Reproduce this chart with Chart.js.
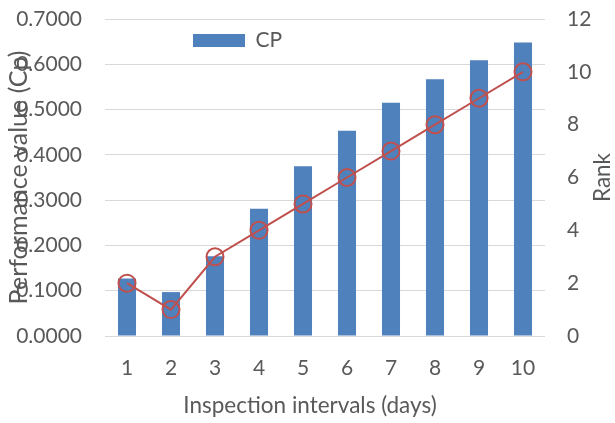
<!DOCTYPE html>
<html>
<head>
<meta charset="utf-8">
<script src="https://cdn.jsdelivr.net/npm/chart.js@4/dist/chart.umd.min.js"></script>
<style>
  body { margin: 0; background: #fff; }
  #wrap { width: 615px; height: 423px; }
</style>
</head>
<body>
<div id="wrap"><canvas id="chart" width="615" height="423"></canvas></div>
<script>
const intervals = ['1', '2', '3', '4', '5', '6', '7', '8', '9', '10'];
const cpValues = [0.127, 0.097, 0.176, 0.281, 0.375, 0.453, 0.515, 0.567, 0.609, 0.648];
const rankValues = [2, 1, 3, 4, 5, 6, 7, 8, 9, 10];

const textColor = '#595959';
const gridColor = '#D9D9D9';
const fontFamily = 'Lato, "Open Sans", sans-serif';

// axis titles placed like the original: x title centred on the whole chart,
// right title reading bottom-to-top
const axisTitles = {
  id: 'axisTitles',
  afterLayout(chart) {
    // move the CP legend into the plot, left of centre
    const lg = chart.legend;
    lg.left = 183;
    lg.top = 20;
  },
  afterDraw(chart) {
    const ctx = chart.ctx;
    const a = chart.chartArea;
    ctx.save();
    ctx.fillStyle = textColor;
    ctx.font = '22.5px ' + fontFamily;
    ctx.textAlign = 'center';
    ctx.textBaseline = 'middle';
    ctx.fillText('Inspection intervals (days)', 310, 406);
    ctx.translate(603, (a.top + a.bottom) / 2);
    ctx.rotate(-Math.PI / 2);
    ctx.fillText('Rank', 0, 0);
    ctx.restore();
  }
};

new Chart(document.getElementById('chart'), {
  data: {
    labels: intervals,
    datasets: [
      {
        type: 'line',
        label: 'Rank',
        data: rankValues,
        yAxisID: 'y1',
        borderColor: '#C0504D',
        borderWidth: 2,
        pointRadius: 8.5,
        pointBorderWidth: 2,
        pointBorderColor: '#C0504D',
        pointBackgroundColor: 'transparent',
        tension: 0,
        order: 0
      },
      {
        type: 'bar',
        label: 'CP',
        data: cpValues,
        yAxisID: 'y',
        backgroundColor: '#4F81BD',
        borderWidth: 0,
        barPercentage: 0.41,
        categoryPercentage: 1,
        order: 1
      }
    ]
  },
  options: {
    responsive: false,
    animation: false,
    layout: { padding: { top: 19, left: 0, right: 0, bottom: 0 } },
    plugins: {
      tooltip: { enabled: false },
      legend: {
        position: 'chartArea',
        align: 'start',
        labels: {
          filter: item => item.text === 'CP',
          boxWidth: 52,
          boxHeight: 13,
          padding: 10,
          color: textColor,
          font: { family: fontFamily, size: 21 }
        }
      }
    },
    scales: {
      x: {
        grid: { display: false },
        border: { display: false },
        ticks: { color: textColor, padding: 12, font: { family: fontFamily, size: 21 } },
        afterFit(s) { s.height = 87; }
      },
      y: {
        position: 'left',
        min: 0,
        max: 0.7,
        grid: { color: gridColor, lineWidth: 1, drawTicks: false },
        border: { display: false },
        ticks: {
          stepSize: 0.1,
          padding: 23,
          color: textColor,
          font: { family: fontFamily, size: 21 },
          callback: v => v.toFixed(4)
        },
        title: {
          display: true,
          text: 'Performance value (Cp)',
          color: textColor,
          padding: { top: 4, bottom: 0 },
          font: { family: fontFamily, size: 25 }
        },
        afterFit(s) {
          s.width = 105;
          s.paddingTop = 0;
          s.paddingBottom = 0;
        }
      },
      y1: {
        position: 'right',
        min: 0,
        max: 12,
        grid: { drawOnChartArea: false, drawTicks: false },
        border: { display: false },
        ticks: {
          stepSize: 2,
          padding: 22,
          color: textColor,
          font: { family: fontFamily, size: 21 }
        },
        afterFit(s) {
          s.width = 70;
          s.paddingTop = 0;
          s.paddingBottom = 0;
        }
      }
    }
  },
  plugins: [axisTitles]
});
</script>
</body>
</html>
